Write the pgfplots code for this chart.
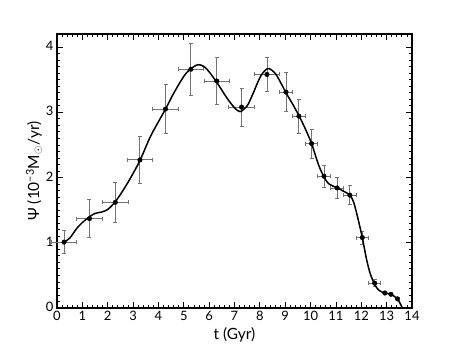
\documentclass[border=0pt]{standalone}
\usepackage{pgfplots}
\pgfplotsset{compat=1.18}
\usepackage{fontspec}
\setmainfont{Lato}

% star formation history: data points with errors, and the smooth fit
\pgfplotstableread{
t     psi   ex    ey
0.28  1.01  0.50  0.18
1.28  1.37  0.50  0.29
2.30  1.62  0.50  0.31
3.27  2.27  0.50  0.36
4.28  3.05  0.50  0.38
5.28  3.66  0.50  0.40
6.30  3.48  0.50  0.36
7.28  3.08  0.50  0.29
8.28  3.58  0.50  0.26
9.03  3.31  0.25  0.30
9.54  2.94  0.25  0.26
10.04 2.52  0.25  0.22
10.53 2.02  0.25  0.17
11.05 1.84  0.25  0.16
11.55 1.73  0.25  0.15
12.04 1.08  0.23  0.10
12.53 0.38  0.24  0.05
12.93 0.23  0     0
13.17 0.21  0     0
13.43 0.14  0     0
}\sfh

\pgfplotstableread{
t     psi
0.28  1.01
0.50  1.07
0.78  1.22
1.00  1.31
1.29  1.40
1.50  1.45
1.75  1.47
2.00  1.51
2.30  1.63
2.60  1.80
2.88  1.98
3.27  2.26
3.70  2.64
4.28  3.05
4.60  3.29
5.00  3.55
5.28  3.67
5.57  3.73
5.80  3.70
6.00  3.62
6.30  3.46
6.70  3.22
7.00  3.07
7.22  3.01
7.50  3.10
7.70  3.26
8.00  3.53
8.20  3.64
8.36  3.67
8.60  3.60
8.80  3.47
9.03  3.30
9.30  3.12
9.54  2.95
9.80  2.74
10.04 2.52
10.30 2.21
10.50 2.03
10.70 1.91
11.05 1.84
11.30 1.79
11.55 1.73
11.70 1.62
11.85 1.40
12.04 1.08
12.20 0.76
12.35 0.53
12.53 0.36
12.70 0.27
12.93 0.23
13.17 0.21
13.43 0.14
13.52 0.08
13.62 0.00
}\fit

\begin{document}
\begin{tikzpicture}
\begin{axis}[
  scale only axis, width=355bp, height=274bp,
  xmin=0, xmax=14, ymin=0, ymax=4.2,
  xtick={0,...,14}, ytick={0,...,4},
  minor x tick num=4, minor y tick num=9,
  tick align=inside,
  major tick length=6bp, minor tick length=3bp,
  every tick/.style={black, line width=0.8bp},
  axis line style={line width=1.3bp},
  /pgf/number format/assume math mode=true,
  tick label style={font=\fontsize{13}{15}\selectfont},
  label style={font=\fontsize{15.5}{17}\selectfont},
  yticklabel style={yshift=1bp},
  xlabel={t (Gyr)},
  ylabel={Ψ (10\textsuperscript{−3}M$_\odot$/yr)},
  ylabel style={yshift=-3bp},
  clip=false,
]
\addplot[only marks, mark=*, mark size=2.3bp, black,
  error bars/.cd, x dir=both, x explicit, y dir=both, y explicit,
  error bar style={black!55, line width=0.9bp},
  error mark options={black!55, rotate=90, mark size=2bp, line width=0.9bp}]
  table[x=t, y=psi, x error=ex, y error=ey] {\sfh};
\addplot[black, line width=1.5bp, smooth, tension=0.5, no markers]
  table[x=t, y=psi] {\fit};
\end{axis}
\path (-57bp,-35bp) rectangle (401bp,308bp);
\end{tikzpicture}
\end{document}
